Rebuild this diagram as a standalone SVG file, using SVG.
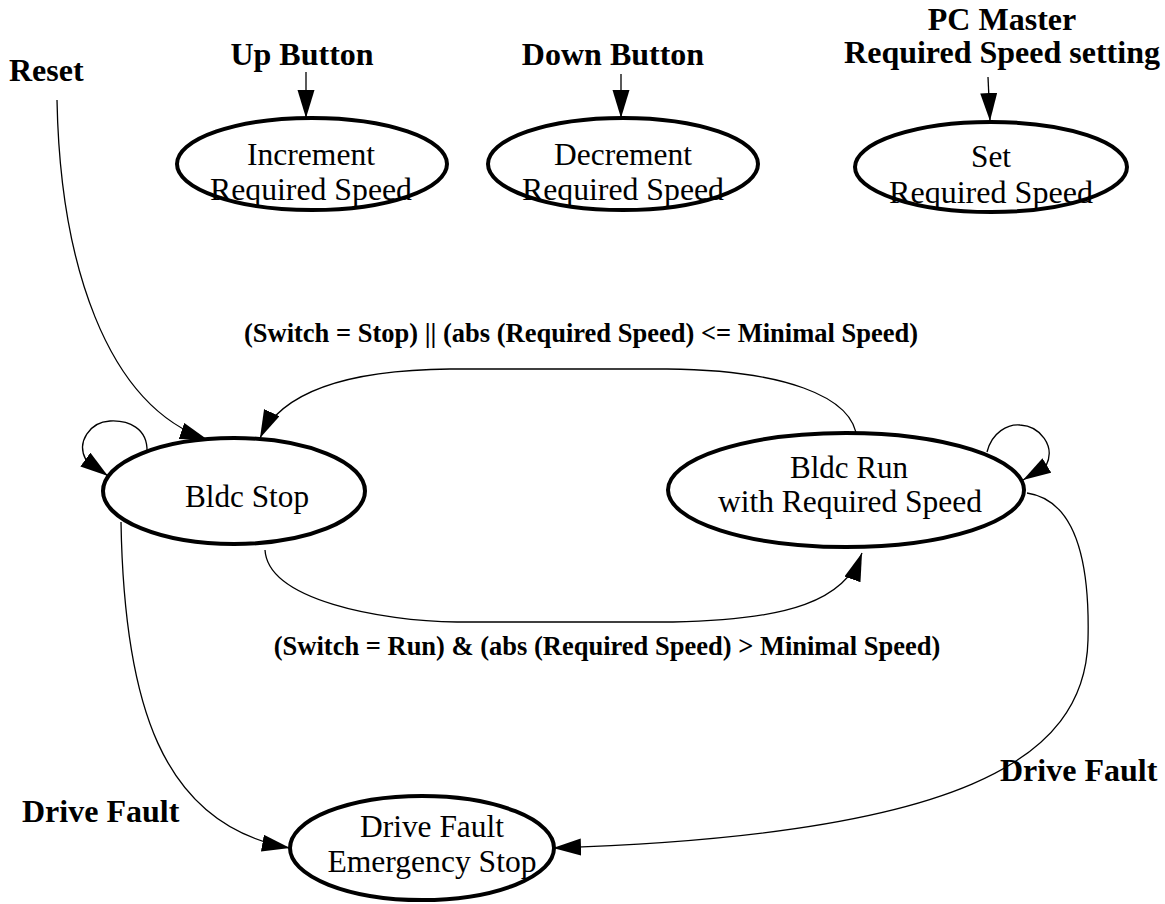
<svg xmlns="http://www.w3.org/2000/svg" width="1165" height="904" viewBox="0 0 1165 904">
<style>
.node{fill:#fff;stroke:#000;stroke-width:4}
.nt{font-family:"Liberation Serif","Times New Roman",serif;font-size:30.5px;fill:#000;text-anchor:middle}
.lb{font-family:"Liberation Serif","Times New Roman",serif;font-size:32px;font-weight:bold;fill:#000}
.tl{font-family:"Liberation Serif","Times New Roman",serif;font-size:26.5px;font-weight:bold;fill:#000;text-anchor:middle}
.edge{fill:none;stroke:#000;stroke-width:1.3}
</style>
<defs>
<marker id="arr" markerUnits="userSpaceOnUse" markerWidth="30" markerHeight="20" refX="28" refY="8.5" orient="auto">
<path d="M0,0 L28,8.5 L0,17 z" fill="#000"/>
</marker>
</defs>
<rect width="1165" height="904" fill="#fff"/>
<g id="connectors">
<path class="edge" d="M306,72 L306,118" marker-end="url(#arr)"/>
<path class="edge" d="M621,74 L621,118" marker-end="url(#arr)"/>
<path class="edge" d="M988,77 L990,121" marker-end="url(#arr)"/>
<path class="edge" d="M57,100 C60,260 105,405 208,440" marker-end="url(#arr)"/>
<path class="edge" d="M147,452 C148,428 128,420 110,421 C90,422 76,442 86,460 L108,476" marker-end="url(#arr)"/>
<path class="edge" d="M857,440 C855,395 780,370 667,369 L450,369 C340,370 280,395 260,438" marker-end="url(#arr)"/>
<path class="edge" d="M265,550 C268,600 380,621 457,622 L673,622 C790,620 845,600 862,553" marker-end="url(#arr)"/>
<path class="edge" d="M987,452 C992,432 1008,424 1020,425 C1040,426 1056,446 1046,466 L1023,480" marker-end="url(#arr)"/>
<path class="edge" d="M1027,493 C1075,500 1090,560 1088,640 C1085,760 960,835 553,848" marker-end="url(#arr)"/>
<path class="edge" d="M121,522 C124,700 160,825 290,848" marker-end="url(#arr)"/>
</g>
<g id="label-reset"><text class="lb" x="9" y="81">Reset</text></g>
<g id="label-up"><text class="lb" x="302" y="65" text-anchor="middle">Up Button</text></g>
<g id="label-down"><text class="lb" x="613" y="65" text-anchor="middle">Down Button</text></g>
<g id="label-pc"><text class="lb" x="1002" y="30" text-anchor="middle">PC Master</text><text class="lb" x="1002" y="63" text-anchor="middle">Required Speed setting</text></g>
<g id="label-stop-cond"><text class="tl" x="581" y="342">(Switch = Stop) || (abs (Required Speed) &lt;= Minimal Speed)</text></g>
<g id="label-run-cond"><text class="tl" x="607" y="655">(Switch = Run) &amp; (abs (Required Speed) &gt; Minimal Speed)</text></g>
<g id="label-fault-left"><text class="lb" x="22" y="822">Drive Fault</text></g>
<g id="label-fault-right"><text class="lb" x="1000" y="781">Drive Fault</text></g>
<g id="node-increment">
<ellipse class="node" cx="312" cy="164" rx="135" ry="46"/>
<text class="nt" x="311" y="165" textLength="128" lengthAdjust="spacingAndGlyphs">Increment</text>
<text class="nt" x="311" y="200" textLength="202" lengthAdjust="spacingAndGlyphs">Required Speed</text>
</g>
<g id="node-decrement">
<ellipse class="node" cx="623" cy="164" rx="135" ry="46"/>
<text class="nt" x="623" y="165" textLength="138" lengthAdjust="spacingAndGlyphs">Decrement</text>
<text class="nt" x="623" y="200" textLength="202" lengthAdjust="spacingAndGlyphs">Required Speed</text>
</g>
<g id="node-set">
<ellipse class="node" cx="991" cy="167" rx="136" ry="45"/>
<text class="nt" x="991" y="167" textLength="40" lengthAdjust="spacingAndGlyphs">Set</text>
<text class="nt" x="991" y="203" textLength="204" lengthAdjust="spacingAndGlyphs">Required Speed</text>
</g>
<g id="node-bldc-stop">
<ellipse class="node" cx="234" cy="491" rx="131" ry="53"/>
<text class="nt" x="247" y="507" textLength="124" lengthAdjust="spacingAndGlyphs">Bldc Stop</text>
</g>
<g id="node-bldc-run">
<ellipse class="node" cx="846" cy="490" rx="178" ry="57"/>
<text class="nt" x="849" y="478" textLength="118" lengthAdjust="spacingAndGlyphs">Bldc Run</text>
<text class="nt" x="850" y="512" textLength="264" lengthAdjust="spacingAndGlyphs">with Required Speed</text>
</g>
<g id="node-emergency">
<ellipse class="node" cx="422" cy="848" rx="132" ry="52"/>
<text class="nt" x="432" y="837" textLength="144" lengthAdjust="spacingAndGlyphs">Drive Fault</text>
<text class="nt" x="432" y="872" textLength="209" lengthAdjust="spacingAndGlyphs">Emergency Stop</text>
</g>
</svg>
